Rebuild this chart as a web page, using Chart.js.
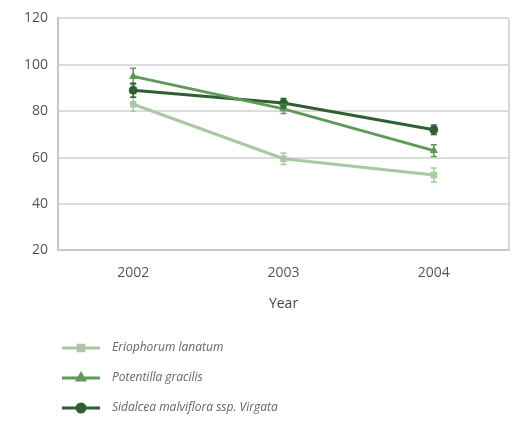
<!DOCTYPE html>
<html>
<head>
<meta charset="utf-8">
<script src="https://cdn.jsdelivr.net/npm/chart.js@4/dist/chart.umd.min.js"></script>
<style>
  html, body { margin: 0; padding: 0; background: #fff; }
  #wrap { width: 514px; height: 422px; }
</style>
</head>
<body>
<div id="wrap"><canvas id="myChart" width="514" height="422"></canvas></div>
<script>
const years = ['2002', '2003', '2004']
const names = ['Eriophorum lanatum', 'Potentilla gracilis', 'Sidalcea malviflora ssp. Virgata']
const eriophorum = [83, 59.5, 52.5]
const potentilla = [95, 81, 63]
const sidalcea = [89, 83.5, 72]
// standard errors
const eriophorumErr = [3, 2.5, 3]
const potentillaErr = [3.5, 2, 2.5]
const sidalceaErr = [3, 2, 2]
const yTicks = [20, 40, 60, 80, 100, 120]

const colors = ['#a8c9a2', '#5e9a58', '#2f5f33']
const shapes = ['rect', 'triangle', 'circle']

const ctx = document.getElementById('myChart')

// small vertical error bars with caps
const errorBars = {
  id: 'errorBars',
  afterDatasetsDraw(chart) {
    const c = chart.ctx
    const y = chart.scales.y
    chart.data.datasets.forEach((ds, i) => {
      const meta = chart.getDatasetMeta(i)
      c.save()
      c.strokeStyle = ds.borderColor
      c.lineWidth = 1.5
      meta.data.forEach((pt, j) => {
        const v = ds.data[j], e = ds.errors[j]
        const top = y.getPixelForValue(v + e)
        const bot = y.getPixelForValue(v - e)
        c.beginPath()
        c.moveTo(pt.x, top); c.lineTo(pt.x, bot)
        c.moveTo(pt.x - 3, top); c.lineTo(pt.x + 3, top)
        c.moveTo(pt.x - 3, bot); c.lineTo(pt.x + 3, bot)
        c.stroke()
      })
      c.restore()
    })
  }
}

// stacked legend under the x axis title, plus the right frame line
const stackLegend = {
  id: 'stackLegend',
  afterDraw(chart) {
    const c = chart.ctx
    const a = chart.chartArea
    c.save()
    c.strokeStyle = '#d8d8d8'
    c.lineWidth = 2
    c.beginPath()
    c.moveTo(a.right, a.top); c.lineTo(a.right, a.bottom)
    c.stroke()
    c.restore()
    chart.data.datasets.forEach((ds, i) => {
      const ly = 348 + i * 30
      c.save()
      c.strokeStyle = ds.borderColor
      c.fillStyle = ds.borderColor
      c.lineWidth = 3
      c.beginPath()
      c.moveTo(62, ly); c.lineTo(100, ly)
      c.stroke()
      Chart.helpers.drawPoint(c, { pointStyle: ds.pointStyle, radius: 4, borderWidth: 1 }, 81, ly)
      c.fillStyle = '#666'
      c.font = 'italic 12px "Open Sans", sans-serif'
      c.textBaseline = 'middle'
      c.fillText(ds.label, 112, ly)
      c.restore()
    })
  }
}

const datasets = [eriophorum, potentilla, sidalcea].map((d, i) => ({
  label: names[i],
  data: d,
  errors: [eriophorumErr, potentillaErr, sidalceaErr][i],
  borderColor: colors[i],
  backgroundColor: colors[i],
  borderWidth: 3,
  pointStyle: shapes[i],
  pointRadius: 4,
  pointBorderWidth: 1,
  tension: 0
}))

const myChart = new Chart(ctx, {
  type: 'line',
  data: { labels: years, datasets },
  options: {
    responsive: false,
    animation: false,
    layout: { padding: { top: 5, right: 3, bottom: 106, left: 14 } },
    plugins: { legend: { display: false }, tooltip: { enabled: false } },
    scales: {
      x: {
        offset: true,
        grid: { display: false },
        border: { color: '#c8c8c8', width: 2 },
        ticks: { color: '#555', font: { family: 'Open Sans', size: 14 }, padding: 6 },
        title: { display: true, text: 'Year', color: '#444', font: { family: 'Open Sans', size: 14 }, padding: { top: 8 } }
      },
      y: {
        min: 20,
        max: 120,
        afterBuildTicks(axis) { axis.ticks = yTicks.map(v => ({ value: v })) },
        grid: { color: '#dcdcdc', lineWidth: 2, drawTicks: false },
        border: { color: '#c8c8c8', width: 2 },
        ticks: { color: '#555', font: { family: 'Open Sans', size: 14 }, padding: 10 }
      }
    }
  },
  plugins: [errorBars, stackLegend]
})
</script>
</body>
</html>
